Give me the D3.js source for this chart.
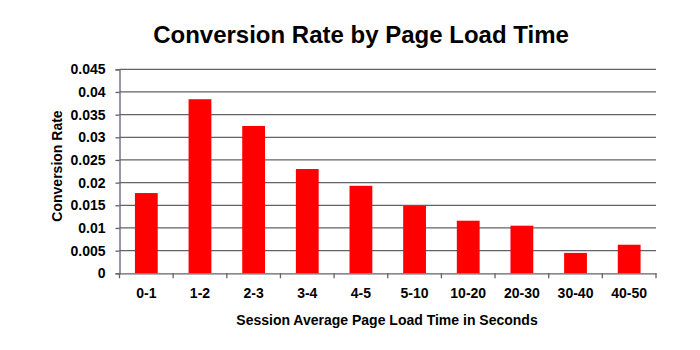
<!DOCTYPE html>
<html><head><meta charset="utf-8">
<script src="https://cdn.jsdelivr.net/npm/d3@7"></script>
<style>body{margin:0;background:#fff}svg{display:block}text{font-family:"Liberation Sans",Arial,sans-serif;font-weight:bold;fill:#000}</style>
</head><body>
<script>
const categories = ["0-1","1-2","2-3","3-4","4-5","5-10","10-20","20-30","30-40","40-50"];
const values = [0.0177,0.0384,0.0325,0.0230,0.0193,0.0149,0.0116,0.0105,0.0045,0.0063];
const yTicks = [0,0.005,0.01,0.015,0.02,0.025,0.03,0.035,0.04,0.045];
const yTickLabels = ["0","0.005","0.01","0.015","0.02","0.025","0.03","0.035","0.04","0.045"];

const W=700,H=350;
const m={left:119.5,right:656,top:69.3,bottom:273.3};
const svg=d3.select("body").append("svg").attr("width",W).attr("height",H);
const x=d3.scaleBand().domain(categories).range([m.left,m.right]).paddingInner(0.575).paddingOuter(0.2875);
const xb=d3.scaleBand().domain(categories).range([m.left,m.right]);
const y=d3.scaleLinear().domain([0,0.045]).range([m.bottom,m.top]);
const grid="#62626c";

svg.append("g").selectAll("line").data(yTicks.slice(1)).join("line")
  .attr("x1",m.left).attr("x2",m.right).attr("y1",d=>y(d)).attr("y2",d=>y(d))
  .attr("stroke",grid).attr("stroke-width",1.3);

svg.append("g").selectAll("rect").data(values).join("rect")
  .attr("x",(d,i)=>x(categories[i])).attr("width",x.bandwidth())
  .attr("y",d=>y(d)).attr("height",d=>y(0)-y(d)).attr("fill","#ff0000");

const ya=svg.append("g").attr("transform",`translate(${m.left},0)`)
  .call(d3.axisLeft(y).tickValues(yTicks).tickFormat((d,i)=>yTickLabels[i]).tickSize(4).tickPadding(10));
ya.select(".domain").attr("stroke",grid).attr("stroke-width",1.3);
ya.selectAll(".tick line").attr("stroke",grid).attr("stroke-width",1.3);
ya.selectAll("text").attr("font-size",14).attr("font-family",null).attr("fill","#000");

const xa=svg.append("g").attr("transform",`translate(0,${m.bottom})`)
  .call(d3.axisBottom(xb).tickSize(0).tickPadding(15));
xa.select(".domain").attr("stroke",grid).attr("stroke-width",1.3);
xa.selectAll("text").attr("font-size",14).attr("font-family",null).attr("fill","#000");
svg.append("g").selectAll("line").data(categories.concat(["end"])).join("line")
  .attr("x1",(d,i)=>i<categories.length?xb(d):m.right).attr("x2",(d,i)=>i<categories.length?xb(d):m.right)
  .attr("y1",m.bottom).attr("y2",m.bottom+5).attr("stroke",grid).attr("stroke-width",1.3);

svg.append("text").attr("x",361).attr("y",43).attr("text-anchor","middle").attr("font-size",24).text("Conversion Rate by Page Load Time");
svg.append("text").attr("x",387).attr("y",325).attr("text-anchor","middle").attr("font-size",14).text("Session Average Page Load Time in Seconds");
svg.append("text").attr("transform",`translate(62,166) rotate(-90)`).attr("text-anchor","middle").attr("font-size",14).text("Conversion Rate");
</script>
</body></html>
